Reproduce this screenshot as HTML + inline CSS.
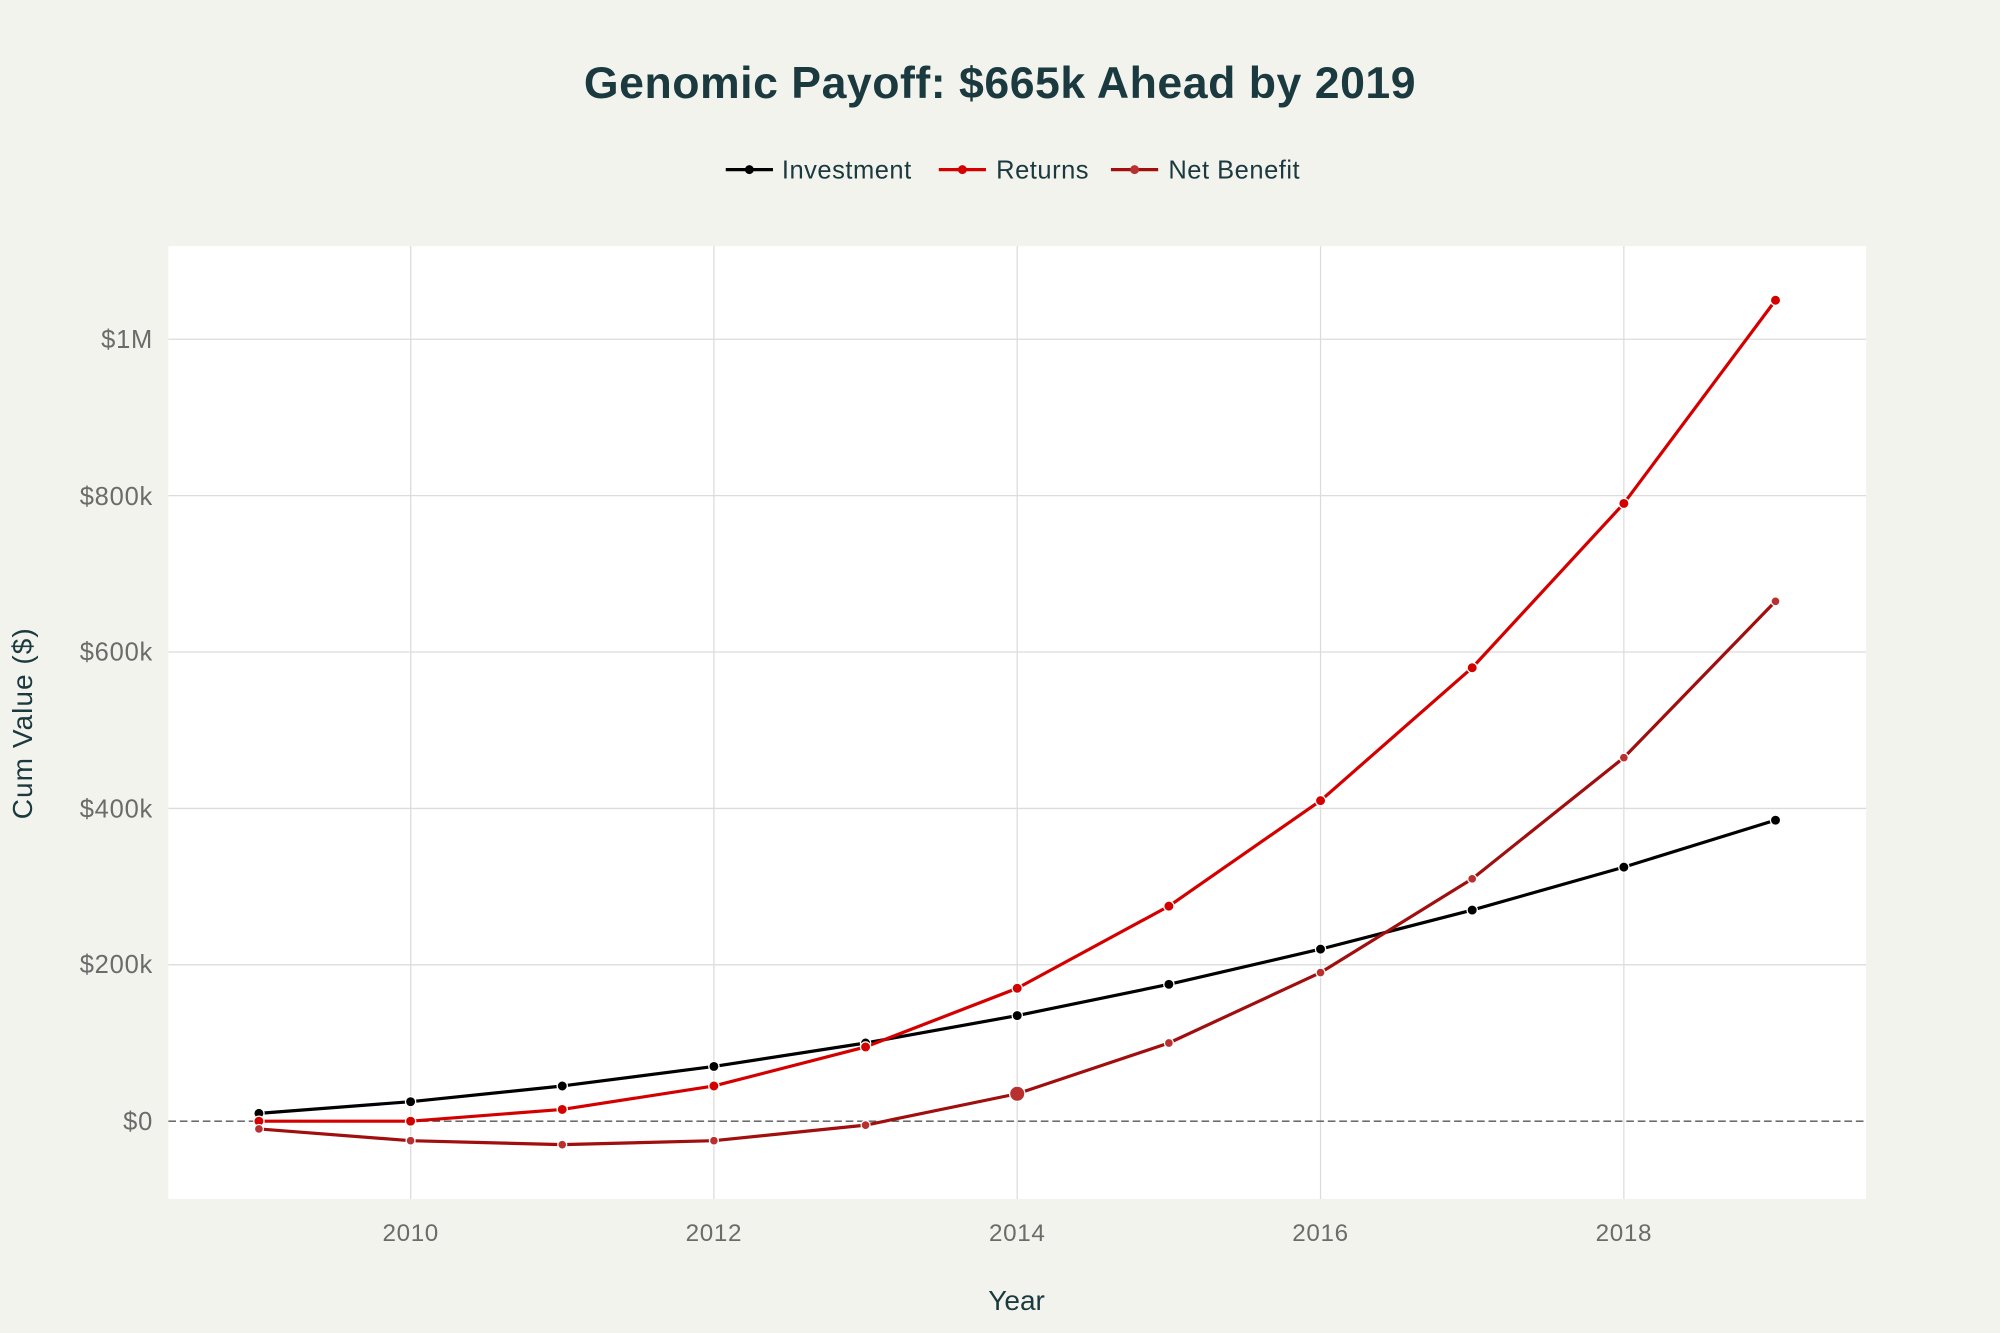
<!DOCTYPE html>
<html><head><meta charset="utf-8"><style>html,body{margin:0;padding:0;background:#f3f3ee}svg{display:block}</style></head><body>
<svg width="2000" height="1333" viewBox="0 0 1568 1045.06" xmlns="http://www.w3.org/2000/svg" font-family="Liberation Sans, sans-serif">
<rect width="1568" height="1046" fill="#f3f3ee"/>
<rect x="132" y="193" width="1331" height="747" fill="#fff"/>
<g stroke="#dcdcdc" stroke-width="1">
<line x1="132" x2="1463" y1="756.4" y2="756.4"/><line x1="132" x2="1463" y1="633.8" y2="633.8"/><line x1="132" x2="1463" y1="511.2" y2="511.2"/><line x1="132" x2="1463" y1="388.6" y2="388.6"/><line x1="132" x2="1463" y1="266" y2="266"/>
<line y1="193" y2="940" x1="322" x2="322"/><line y1="193" y2="940" x1="559.7" x2="559.7"/><line y1="193" y2="940" x1="797.5" x2="797.5"/><line y1="193" y2="940" x1="1035.3" x2="1035.3"/><line y1="193" y2="940" x1="1273.1" x2="1273.1"/>
</g>
<line x1="132" x2="1463" y1="879" y2="879" stroke="#555" stroke-width="1" stroke-dasharray="6,3"/>
<g fill="#6b6b6b" font-size="20" text-anchor="end" letter-spacing="0.6">
<text x="120" y="886">$0</text><text x="120" y="763">$200k</text><text x="120" y="641">$400k</text><text x="120" y="518">$600k</text><text x="120" y="396">$800k</text><text x="120" y="273">$1M</text>
</g>
<g fill="#6b6b6b" font-size="19" text-anchor="middle" letter-spacing="0.5">
<text x="322" y="973">2010</text><text x="559.7" y="973">2012</text><text x="797.5" y="973">2014</text><text x="1035.3" y="973">2016</text><text x="1273.1" y="973">2018</text>
</g>
<text x="797" y="1027" font-size="22" fill="#1b3a3f" text-anchor="middle">Year</text>
<text transform="translate(25,567) rotate(-90)" font-size="22" fill="#1b3a3f" text-anchor="middle" letter-spacing="0.8">Cum Value ($)</text>
<text x="784" y="77" font-size="35" font-weight="bold" fill="#1b3a3f" text-anchor="middle" letter-spacing="0.4">Genomic Payoff: $665k Ahead by 2019</text>
<g font-size="20" fill="#1b3a3f" letter-spacing="0.4">
<line x1="569" x2="606" y1="133" y2="133" stroke="#000" stroke-width="2.5"/><circle cx="587.5" cy="133" r="3.5" fill="#000"/><text x="613" y="140">Investment</text>
<line x1="736" x2="773" y1="133" y2="133" stroke="#d40000" stroke-width="2.5"/><circle cx="754.5" cy="133" r="3.5" fill="#d40000"/><text x="781" y="140">Returns</text>
<line x1="871" x2="908" y1="133" y2="133" stroke="#a00e0e" stroke-width="2.5"/><circle cx="889.5" cy="133" r="3.5" fill="#b83030"/><text x="916" y="140">Net Benefit</text>
</g>
<g fill="none" stroke-width="2.5" stroke-linejoin="round">
<polyline stroke="#000" points="203,872.9 321.9,863.7 440.8,851.4 559.7,836.1 678.6,817.7 797.5,796.2 916.4,771.7 1035.3,744.1 1154.2,713.5 1273.1,679.8 1392,643"/>
<polyline stroke="#d40000" points="203,879 321.9,879 440.8,869.8 559.7,851.4 678.6,820.8 797.5,774.8 916.4,710.4 1035.3,627.7 1154.2,523.5 1273.1,394.7 1392,235.4"/>
<polyline stroke="#a00e0e" points="203,885.1 321.9,894.3 440.8,897.4 559.7,894.3 678.6,882.1 797.5,857.5 916.4,817.7 1035.3,762.5 1154.2,689 1273.1,594 1392,471.4"/>
</g>
<g fill="#000" stroke="#fff" stroke-width="1"><circle cx="203" cy="872.9" r="4"/><circle cx="321.9" cy="863.7" r="4"/><circle cx="440.8" cy="851.4" r="4"/><circle cx="559.7" cy="836.1" r="4"/><circle cx="678.6" cy="817.7" r="4"/><circle cx="797.5" cy="796.2" r="4"/><circle cx="916.4" cy="771.7" r="4"/><circle cx="1035.3" cy="744.1" r="4"/><circle cx="1154.2" cy="713.5" r="4"/><circle cx="1273.1" cy="679.8" r="4"/><circle cx="1392" cy="643" r="4"/></g>
<g fill="#d40000" stroke="#fff" stroke-width="1"><circle cx="203" cy="879" r="4"/><circle cx="321.9" cy="879" r="4"/><circle cx="440.8" cy="869.8" r="4"/><circle cx="559.7" cy="851.4" r="4"/><circle cx="678.6" cy="820.8" r="4"/><circle cx="797.5" cy="774.8" r="4"/><circle cx="916.4" cy="710.4" r="4"/><circle cx="1035.3" cy="627.7" r="4"/><circle cx="1154.2" cy="523.5" r="4"/><circle cx="1273.1" cy="394.7" r="4"/><circle cx="1392" cy="235.4" r="4"/></g>
<g fill="#b83030" stroke="#fff" stroke-width="1"><circle cx="203" cy="885.1" r="3.5"/><circle cx="321.9" cy="894.3" r="3.5"/><circle cx="440.8" cy="897.4" r="3.5"/><circle cx="559.7" cy="894.3" r="3.5"/><circle cx="678.6" cy="882.1" r="3.5"/><circle cx="797.5" cy="857.5" r="6"/><circle cx="916.4" cy="817.7" r="3.5"/><circle cx="1035.3" cy="762.5" r="3.5"/><circle cx="1154.2" cy="689" r="3.5"/><circle cx="1273.1" cy="594" r="3.5"/><circle cx="1392" cy="471.4" r="3.5"/></g>
</svg>
</body></html>
